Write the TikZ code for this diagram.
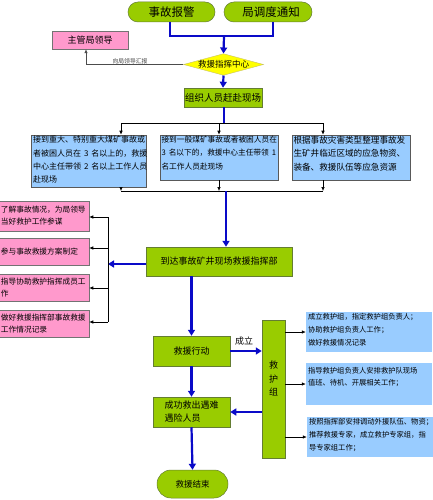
\documentclass[tikz,border=0pt]{standalone}
\usepackage{fontspec}
\setmainfont{Noto Sans CJK SC}
\usetikzlibrary{arrows.meta,shapes.geometric}
\definecolor{gfill}{RGB}{153,204,0}
\definecolor{bfill}{RGB}{153,204,255}
\definecolor{pfill}{RGB}{255,153,204}
\definecolor{yfill}{RGB}{255,255,0}
\definecolor{arrblue}{RGB}{10,10,200}
\definecolor{gedge}{RGB}{100,125,50}
\newcommand{\myfs}[2]{\fontsize{#1}{#2}\selectfont}
\newcommand{\topbox}[3]{\parbox[c][#1][t]{#2}{#3}}
\newcommand{\dsp}{\kern3pt}
\begin{document}
\begin{tikzpicture}[x=1pt,y=-1pt,
  every node/.style={inner sep=0pt},
  gbox/.style={draw=gedge, fill=gfill, line width=0.5pt},
  oval/.style={gbox, rounded corners=10pt},
  pinkbox/.style={draw=black!55, fill=pfill, line width=0.5pt},
  pbox/.style={pinkbox, inner xsep=4pt, text width=84pt, align=left, font=\myfs{7.7}{12}},
  bbox/.style={draw=black!65, fill=bfill, line width=0.6pt},
  rbox/.style={fill=bfill, inner xsep=2pt, inner ysep=1pt},
  barrow/.style={draw=arrblue, line width=2.2pt, -{Triangle[length=6pt,width=7pt]}},
  bline/.style={draw=arrblue, line width=2.2pt},
  tarrow/.style={draw=black, line width=0.6pt, -{Latex[length=4pt,width=3.5pt]}},
  tline/.style={draw=black, line width=0.6pt}]
\useasboundingbox (0,0) rectangle (433,500);
\fill[white] (0,0) rectangle (433,500);

% ---- nodes ----
\node[oval, minimum width=87pt, minimum height=20pt, font=\myfs{11.5}{12}] (bj) at (171.5,12) {事故报警};
\node[oval, minimum width=88pt, minimum height=20pt, font=\myfs{11.5}{12}] (dd) at (268,12) {\hspace{6pt}局调度通知};
\node[diamond, draw=olive!50, fill=yfill, aspect=3.7, font=\myfs{8.5}{9}] (zh) at (223.5,64.5) {救援指挥中心};
\node[pinkbox, minimum width=76pt, minimum height=18pt, font=\myfs{9}{10}] (zzld) at (90,40) {主管局领导};
\node[font=\myfs{5.8}{6}, text=black!75] (lbl1) at (130,61) {向局领导汇报};
\node[gbox, minimum width=78pt, minimum height=19pt, font=\myfs{9.5}{10}] (zz) at (223,97.5) {组织人员赶赴现场};

\node[bbox, minimum width=115pt, minimum height=52pt] (b1) at (88.5,161)
  {\topbox{50pt}{111pt}{\myfs{8}{13.3}接到重大、特别重大煤矿事故或\\者被困人员在\dsp 3\dsp 名以上的，救援\\中心主任带领\dsp 2\dsp 名以上工作人员\\赴现场}};
\node[bbox, minimum width=118pt, minimum height=45pt] (b2) at (219,157.5)
  {\topbox{43pt}{115pt}{\myfs{7.7}{13.3}接到一般煤矿事故或者被困人员在\\3\dsp 名以下的，救援中心主任带领\dsp 1\\名工作人员赴现场}};
\node[bbox, minimum width=118pt, minimum height=45pt] (b3) at (351,157.5)
  {\topbox{43pt}{115pt}{\myfs{8.6}{13.5}根据事故灾害类型整理事故发\\生矿井临近区域的应急物资、\\装备、救援队伍等应急资源}};

\node[gbox, minimum width=146pt, minimum height=29pt, font=\myfs{9}{10}] (dc) at (219,261.5) {到达事故矿井现场救援指挥部};

\node[pbox, minimum height=30pt] (p1) at (43,216) {了解事故情况，为局领导\\当好救护工作参谋};
\node[pbox, minimum height=27pt] (p2) at (43,251.5) {参与事故救援方案制定};
\node[pbox, minimum height=27pt] (p3) at (43,287.5) {指导协助救护指挥成员工\\作};
\node[pbox, minimum height=27pt] (p4) at (43,323.5) {做好救援指挥部事故救援\\工作情况记录};

\node[gbox, minimum width=77pt, minimum height=30pt, font=\myfs{9}{10}] (jy) at (191.5,351) {救援行动};
\node[gbox, minimum width=23pt, minimum height=138pt] (jhz) at (273.5,389) {};
\node[font=\myfs{9}{13.5}, align=center] (jhzt) at (273.5,378.5) {救\\护\\组};
\node[font=\myfs{9}{10}] (cl) at (244,341) {成立};
\node[gbox, minimum width=77pt, minimum height=30pt, font=\myfs{9}{13}, align=left] (cg) at (191.5,412) {成功救出遇难\\遇险人员};
\node[gbox, rounded corners=14pt, minimum width=71pt, minimum height=28pt, font=\myfs{8.5}{9}] (js) at (192.5,484) {救援结束};

\node[rbox] (r1) at (369,332)
  {\topbox{38pt}{122pt}{\myfs{7.3}{13}成立救护组，指定救护组负责人；\\协助救护组负责人工作；\\做好救援情况记录}};
\node[rbox] (r2) at (369,384)
  {\topbox{40pt}{122pt}{\vspace*{3pt}\myfs{7.3}{12}指导救护组负责人安排救护队现场\\值班、待机、开展相关工作；}};
\node[rbox] (r3) at (370,437)
  {\topbox{38pt}{122pt}{\myfs{7.3}{13}按照指挥部安排调动外援队伍、物资；\\推荐救援专家，成立救护专家组，指\\导专家组工作；}};

% ---- connectors ----
\coordinate (t1) at (170,36);
\coordinate (t2) at (273,36);
\coordinate (tm) at (224,36);
\draw[bline] (bj.south -| t1) -- (t1) -- (t2) -- (dd.south -| t2);
\draw[barrow] (tm) -- (zh.north);

\coordinate (lk) at (86,65);
\draw[tarrow, draw=black!70] (zh.west) -- (zh.west -| lk) -- (lk |- zzld.south);

\draw[barrow] (zh.south) -- (zz.north);

\coordinate (s0) at (224,123);
\coordinate (sL) at (121,123);
\coordinate (sM) at (219,123);
\coordinate (sR) at (323,123);
\draw[bline] (zz.south -| s0) -- (s0);
\draw[tline] (sL) -- (sR);
\draw[tarrow] (sL) -- (sL |- b1.north);
\draw[tarrow] (sM) -- (sM |- b2.north);
\draw[tarrow] (sR) -- (sR |- b3.north);

\coordinate (uL) at (121,191);
\coordinate (uM) at (219,191);
\coordinate (uR) at (323,191);
\coordinate (u0) at (226,191);
\draw[tarrow] (uL |- b1.south) -- (uL);
\draw[tarrow] (uM |- b2.south) -- (uM);
\draw[tarrow] (uR |- b3.south) -- (uR);
\draw[tline] (uL) -- (uR);
\draw[barrow] (u0) -- (u0 |- dc.north);

\coordinate (lv) at (108,264);
\coordinate (v1) at (108,217);
\coordinate (v2) at (108,248);
\coordinate (v3) at (108,288);
\coordinate (v4) at (108,322);
\draw[barrow] (dc.west |- lv) -- (lv);
\draw[tline] (v1) -- (v4);
\draw[tarrow] (v1) -- (v1 -| p1.east);
\draw[tarrow] (v2) -- (v2 -| p2.east);
\draw[tarrow] (v3) -- (v3 -| p3.east);
\draw[tarrow] (v4) -- (v4 -| p4.east);

\draw[barrow] (jy.north |- dc.south) -- (jy.north);
\draw[barrow] (jy.east) -- (jy.east -| jhz.west);
\draw[barrow] (jy.south) -- (cg.north);
\draw[barrow] (cg.east -| jhz.west) -- (cg.east);
\draw[barrow] (cg.south) -- (js.north);

\draw[tarrow] (jhz.east |- r1.west) -- (r1.west);
\draw[tarrow] (jhz.east |- r2.west) -- (r2.west);
\draw[tarrow] (jhz.east |- r3.west) -- (r3.west);
\end{tikzpicture}
\end{document}
